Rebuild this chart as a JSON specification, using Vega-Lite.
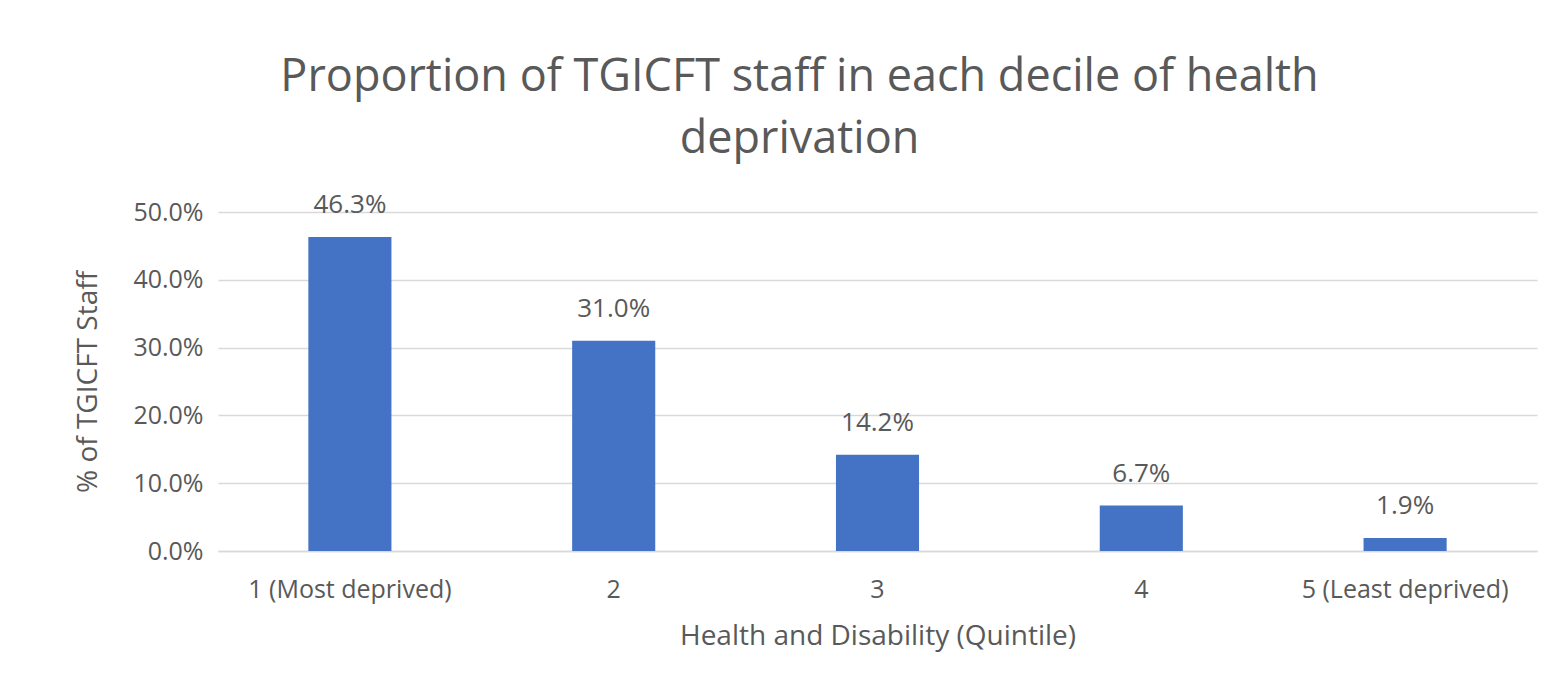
{
  "$schema": "https://vega.github.io/schema/vega-lite/v6.json",
  "autosize": "none",
  "width": 1319,
  "height": 339,
  "padding": {"left": 218, "top": 212, "right": 8, "bottom": 141},
  "background": "white",
  "title": {
    "text": ["Proportion of TGICFT staff in each decile of health", "deprivation"],
    "font": "Open Sans",
    "fontSize": 45,
    "fontWeight": "normal",
    "color": "#595959",
    "anchor": "middle",
    "frame": "group",
    "dx": -78,
    "lineHeight": 62,
    "offset": 30
  },
  "data": {
    "values": [
      {"quintile": "1 (Most deprived)", "pct": 0.463},
      {"quintile": "2", "pct": 0.310},
      {"quintile": "3", "pct": 0.142},
      {"quintile": "4", "pct": 0.067},
      {"quintile": "5 (Least deprived)", "pct": 0.019}
    ]
  },
  "encoding": {
    "x": {
      "field": "quintile",
      "type": "nominal",
      "sort": null,
      "title": "Health and Disability (Quintile)",
      "scale": {"paddingInner": 0.685, "paddingOuter": 0.3425},
      "axis": {
        "labelAngle": 0,
        "labelLimit": 0,
        "ticks": false,
        "domain": true,
        "domainColor": "#d9d9d9",
        "domainWidth": 1.5,
        "labelPadding": 26,
        "titlePadding": 20
      }
    },
    "y": {
      "field": "pct",
      "type": "quantitative",
      "title": "% of TGICFT Staff",
      "scale": {"domain": [0, 0.5]},
      "axis": {
        "format": ".1%",
        "values": [0, 0.1, 0.2, 0.3, 0.4, 0.5],
        "ticks": false,
        "domain": false,
        "grid": true,
        "gridColor": "#d9d9d9",
        "gridWidth": 1.5,
        "labelPadding": 15,
        "titlePadding": 30
      }
    }
  },
  "layer": [
    {"mark": {"type": "bar", "color": "#4472C4"}},
    {
      "mark": {"type": "text", "dy": -32, "font": "Open Sans", "fontSize": 26, "color": "#595959"},
      "encoding": {"text": {"field": "pct", "type": "quantitative", "format": ".1%"}}
    }
  ],
  "config": {
    "view": {"stroke": null},
    "axis": {
      "labelFont": "Open Sans",
      "labelFontSize": 25,
      "labelColor": "#595959",
      "titleFont": "Open Sans",
      "titleFontSize": 28,
      "titleFontWeight": "normal",
      "titleColor": "#595959"
    }
  }
}
